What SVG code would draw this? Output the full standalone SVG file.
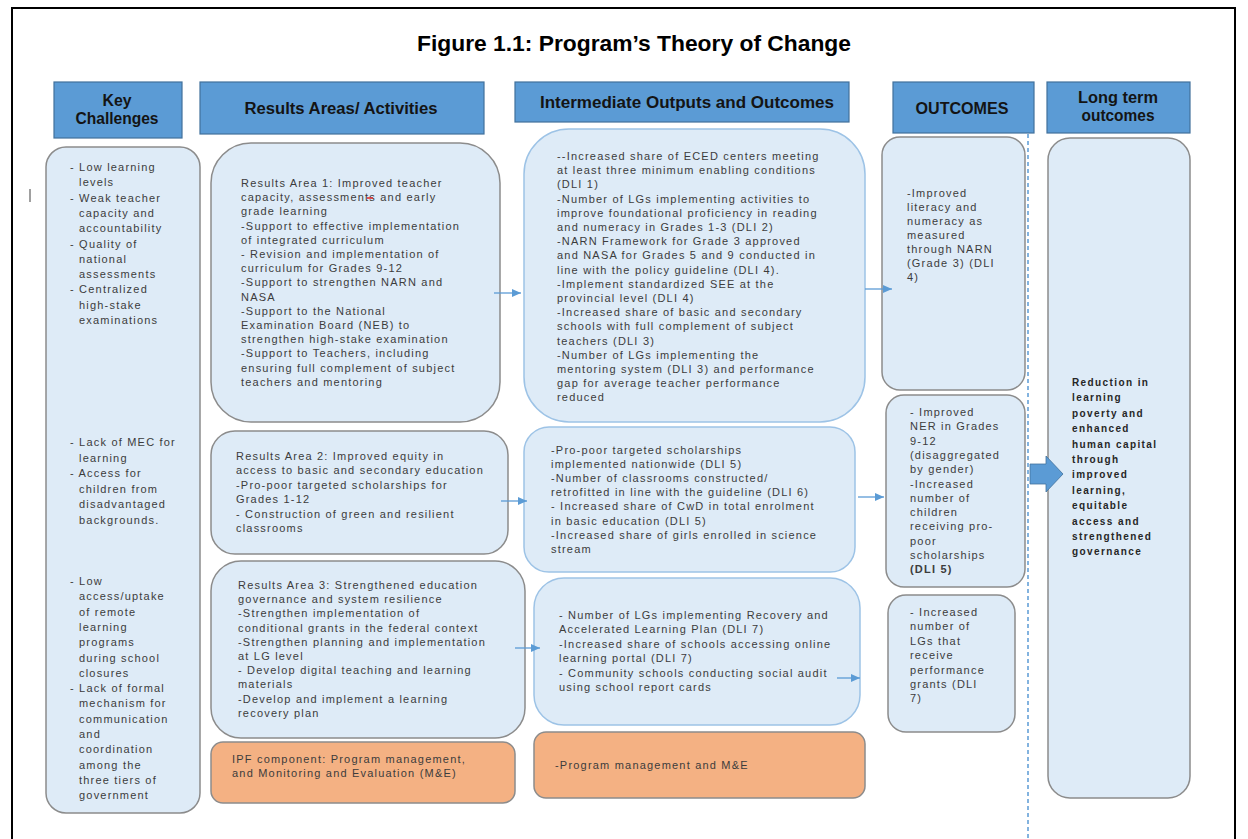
<svg xmlns="http://www.w3.org/2000/svg" width="1248" height="839" viewBox="0 0 1248 839">
  <defs>
    <style>
      .hdr { fill:#5B9BD5; stroke:#41719C; stroke-width:1.2; }
      .ht { font-family:"Liberation Sans", Arial, sans-serif; font-weight:bold; font-size:16px; fill:#141414; text-anchor:middle; }
      .box { fill:#DEEBF7; stroke:#8C8C8C; stroke-width:1.5; }
      .boxb { fill:#DEEBF7; stroke:#9DC3E6; stroke-width:1.5; }
      .org { fill:#F4B183; stroke:#8C8C8C; stroke-width:1.5; }
      .t { font-family:"Liberation Sans", Arial, sans-serif; font-size:11px; fill:#3C3C3C; letter-spacing:1.2px; }
      .lt { font-family:"Liberation Sans", Arial, sans-serif; font-size:10px; font-weight:bold; fill:#262626; letter-spacing:1.4px; }
      .conn path { stroke:#5B9BD5; stroke-width:1.3; fill:none; marker-end:url(#ah); }
    </style>
    <marker id="ah" markerUnits="userSpaceOnUse" markerWidth="9" markerHeight="8" refX="9" refY="4" orient="auto">
      <path d="M0,0 L9,4 L0,8 z" fill="#5B9BD5"/>
    </marker>
  </defs>

  <rect width="1248" height="839" fill="#FFFFFF"/>
  <!-- page frame -->
  <path d="M12,850 V8 H1235 V850" fill="none" stroke="#000" stroke-width="2"/>
  <rect x="29" y="189" width="2" height="13" fill="#A0A0A0"/>

  <text x="634" y="51" font-family="'Liberation Sans', Arial, sans-serif" font-weight="bold" font-size="22" fill="#000" text-anchor="middle" textLength="434" lengthAdjust="spacingAndGlyphs">Figure 1.1: Program’s Theory of Change</text>

  <!-- column headers -->
  <g id="hdr-key">
    <rect class="hdr" x="54" y="82" width="128" height="56"/>
    <text class="ht" x="117" y="106" textLength="29" lengthAdjust="spacingAndGlyphs">Key</text>
    <text class="ht" x="117" y="124" textLength="83" lengthAdjust="spacingAndGlyphs">Challenges</text>
  </g>
  <g id="hdr-results">
    <rect class="hdr" x="200" y="82" width="284" height="52"/>
    <text class="ht" x="341" y="114" textLength="193" lengthAdjust="spacingAndGlyphs">Results Areas/ Activities</text>
  </g>
  <g id="hdr-intermediate">
    <rect class="hdr" x="515" y="82" width="334" height="40"/>
    <text class="ht" x="687" y="108" textLength="294" lengthAdjust="spacingAndGlyphs">Intermediate Outputs and Outcomes</text>
  </g>
  <g id="hdr-outcomes">
    <rect class="hdr" x="893" y="82" width="141" height="51"/>
    <text class="ht" x="962" y="114" textLength="93" lengthAdjust="spacingAndGlyphs">OUTCOMES</text>
  </g>
  <g id="hdr-longterm">
    <rect class="hdr" x="1047" y="82" width="143" height="51"/>
    <text class="ht" x="1118" y="103" textLength="80" lengthAdjust="spacingAndGlyphs">Long term</text>
    <text class="ht" x="1118" y="121" textLength="73" lengthAdjust="spacingAndGlyphs">outcomes</text>
  </g>

  <!-- key challenges -->
  <g id="key-challenges">
    <rect class="box" x="46" y="147" width="154" height="666" rx="20"/>
    <text class="t">
      <tspan x="70" y="171">- Low learning</tspan>
      <tspan x="79" dy="15.3">levels</tspan>
      <tspan x="70" dy="15.3">- Weak teacher</tspan>
      <tspan x="79" dy="15.3">capacity and</tspan>
      <tspan x="79" dy="15.3">accountability</tspan>
      <tspan x="70" dy="15.3">- Quality of</tspan>
      <tspan x="79" dy="15.3">national</tspan>
      <tspan x="79" dy="15.3">assessments</tspan>
      <tspan x="70" dy="15.3">- Centralized</tspan>
      <tspan x="79" dy="15.3">high-stake</tspan>
      <tspan x="79" dy="15.3">examinations</tspan>
    </text>
    <text class="t">
      <tspan x="70" y="446">- Lack of MEC for</tspan>
      <tspan x="79" dy="15.5">learning</tspan>
      <tspan x="70" dy="15.5">- Access for</tspan>
      <tspan x="79" dy="15.5">children from</tspan>
      <tspan x="79" dy="15.5">disadvantaged</tspan>
      <tspan x="79" dy="15.5">backgrounds.</tspan>
    </text>
    <text class="t">
      <tspan x="70" y="585">- Low</tspan>
      <tspan x="79" dy="15.3">access/uptake</tspan>
      <tspan x="79" dy="15.3">of remote</tspan>
      <tspan x="79" dy="15.3">learning</tspan>
      <tspan x="79" dy="15.3">programs</tspan>
      <tspan x="79" dy="15.3">during school</tspan>
      <tspan x="79" dy="15.3">closures</tspan>
      <tspan x="70" dy="15.3">- Lack of formal</tspan>
      <tspan x="79" dy="15.3">mechanism for</tspan>
      <tspan x="79" dy="15.3">communication</tspan>
      <tspan x="79" dy="15.3">and</tspan>
      <tspan x="79" dy="15.3">coordination</tspan>
      <tspan x="79" dy="15.3">among the</tspan>
      <tspan x="79" dy="15.3">three tiers of</tspan>
      <tspan x="79" dy="15.3">government</tspan>
    </text>
  </g>

  <!-- results areas -->
  <g id="results-area-1">
    <rect class="box" x="211" y="143" width="289" height="279" rx="40"/>
    <text class="t">
      <tspan x="241" y="187">Results Area 1: Improved teacher</tspan>
      <tspan x="241" dy="14.2">capacity, assessments and early</tspan>
      <tspan x="241" dy="14.2">grade learning</tspan>
      <tspan x="241" dy="14.2">-Support to effective implementation</tspan>
      <tspan x="241" dy="14.2">of integrated curriculum</tspan>
      <tspan x="241" dy="14.2">- Revision and implementation of</tspan>
      <tspan x="241" dy="14.2">curriculum for Grades 9-12</tspan>
      <tspan x="241" dy="14.2">-Support to strengthen NARN and</tspan>
      <tspan x="241" dy="14.2">NASA</tspan>
      <tspan x="241" dy="14.2">-Support to the National</tspan>
      <tspan x="241" dy="14.2">Examination Board (NEB) to</tspan>
      <tspan x="241" dy="14.2">strengthen high-stake examination</tspan>
      <tspan x="241" dy="14.2">-Support to Teachers, including</tspan>
      <tspan x="241" dy="14.2">ensuring full complement of subject</tspan>
      <tspan x="241" dy="14.2">teachers and mentoring</tspan>
    </text>
    <path d="M367,198 H373" stroke="#E03030" stroke-width="1.6"/>
  </g>
  <g id="results-area-2">
    <rect class="box" x="211" y="431" width="297" height="123" rx="24"/>
    <text class="t">
      <tspan x="236" y="460">Results Area 2: Improved equity in</tspan>
      <tspan x="236" dy="14.4">access to basic and secondary education</tspan>
      <tspan x="236" dy="14.4">-Pro-poor targeted scholarships for</tspan>
      <tspan x="236" dy="14.4">Grades 1-12</tspan>
      <tspan x="236" dy="14.4">- Construction of green and resilient</tspan>
      <tspan x="236" dy="14.4">classrooms</tspan>
    </text>
  </g>
  <g id="results-area-3">
    <rect class="box" x="211" y="561" width="314" height="177" rx="30"/>
    <text class="t">
      <tspan x="238" y="589">Results Area 3: Strengthened education</tspan>
      <tspan x="238" dy="14.2">governance and system resilience</tspan>
      <tspan x="238" dy="14.2">-Strengthen implementation of</tspan>
      <tspan x="238" dy="14.2">conditional grants in the federal context</tspan>
      <tspan x="238" dy="14.2">-Strengthen planning and implementation</tspan>
      <tspan x="238" dy="14.2">at LG level</tspan>
      <tspan x="238" dy="14.2">- Develop digital teaching and learning</tspan>
      <tspan x="238" dy="14.2">materials</tspan>
      <tspan x="238" dy="14.2">-Develop and implement a learning</tspan>
      <tspan x="238" dy="14.2">recovery plan</tspan>
    </text>
  </g>
  <g id="ipf-component">
    <rect class="org" x="211" y="742" width="304" height="61" rx="12"/>
    <text class="t">
      <tspan x="232" y="763">IPF component: Program management,</tspan>
      <tspan x="232" dy="14.2">and Monitoring and Evaluation (M&amp;E)</tspan>
    </text>
  </g>

  <!-- intermediate outputs and outcomes -->
  <g id="intermediate-1">
    <rect class="boxb" x="524" y="129" width="341" height="293" rx="45"/>
    <text class="t">
      <tspan x="557" y="160">--Increased share of ECED centers meeting</tspan>
      <tspan x="557" dy="14.2">at least three minimum enabling conditions</tspan>
      <tspan x="557" dy="14.2">(DLI 1)</tspan>
      <tspan x="557" dy="14.2">-Number of LGs implementing activities to</tspan>
      <tspan x="557" dy="14.2">improve foundational proficiency in reading</tspan>
      <tspan x="557" dy="14.2">and numeracy in Grades 1-3 (DLI 2)</tspan>
      <tspan x="557" dy="14.2">-NARN Framework for Grade 3 approved</tspan>
      <tspan x="557" dy="14.2">and NASA for Grades 5 and 9 conducted in</tspan>
      <tspan x="557" dy="14.2">line with the policy guideline (DLI 4).</tspan>
      <tspan x="557" dy="14.2">-Implement standardized SEE at the</tspan>
      <tspan x="557" dy="14.2">provincial level (DLI 4)</tspan>
      <tspan x="557" dy="14.2">-Increased share of basic and secondary</tspan>
      <tspan x="557" dy="14.2">schools with full complement of subject</tspan>
      <tspan x="557" dy="14.2">teachers (DLI 3)</tspan>
      <tspan x="557" dy="14.2">-Number of LGs implementing the</tspan>
      <tspan x="557" dy="14.2">mentoring system (DLI 3) and performance</tspan>
      <tspan x="557" dy="14.2">gap for average teacher performance</tspan>
      <tspan x="557" dy="14.2">reduced</tspan>
    </text>
  </g>
  <g id="intermediate-2">
    <rect class="boxb" x="524" y="427" width="331" height="145" rx="25"/>
    <text class="t">
      <tspan x="551" y="454">-Pro-poor targeted scholarships</tspan>
      <tspan x="551" dy="14.1">implemented nationwide (DLI 5)</tspan>
      <tspan x="551" dy="14.1">-Number of classrooms constructed/</tspan>
      <tspan x="551" dy="14.1">retrofitted in line with the guideline (DLI 6)</tspan>
      <tspan x="551" dy="14.1">- Increased share of CwD in total enrolment</tspan>
      <tspan x="551" dy="14.1">in basic education (DLI 5)</tspan>
      <tspan x="551" dy="14.1">-Increased share of girls enrolled in science</tspan>
      <tspan x="551" dy="14.1">stream</tspan>
    </text>
  </g>
  <g id="intermediate-3">
    <rect class="boxb" x="534" y="578" width="326" height="147" rx="30"/>
    <text class="t">
      <tspan x="559" y="619">- Number of LGs implementing Recovery and</tspan>
      <tspan x="559" dy="14.4">Accelerated Learning Plan (DLI 7)</tspan>
      <tspan x="559" dy="14.4">-Increased share of schools accessing online</tspan>
      <tspan x="559" dy="14.4">learning portal (DLI 7)</tspan>
      <tspan x="559" dy="14.4">- Community schools conducting social audit</tspan>
      <tspan x="559" dy="14.4">using school report cards</tspan>
    </text>
  </g>
  <g id="intermediate-4">
    <rect class="org" x="534" y="732" width="331" height="66" rx="12"/>
    <text class="t" x="555" y="769">-Program management and M&amp;E</text>
  </g>

  <!-- outcomes -->
  <g id="outcome-1">
    <rect class="box" x="882" y="137" width="143" height="253" rx="18"/>
    <text class="t">
      <tspan x="907" y="197">-Improved</tspan>
      <tspan x="907" dy="14">literacy and</tspan>
      <tspan x="907" dy="14">numeracy as</tspan>
      <tspan x="907" dy="14">measured</tspan>
      <tspan x="907" dy="14">through NARN</tspan>
      <tspan x="907" dy="14">(Grade 3) (DLI</tspan>
      <tspan x="907" dy="14">4)</tspan>
    </text>
  </g>
  <g id="outcome-2">
    <rect class="box" x="886" y="395" width="139" height="192" rx="18"/>
    <text class="t">
      <tspan x="910" y="416">- Improved</tspan>
      <tspan x="910" dy="14.3">NER in Grades</tspan>
      <tspan x="910" dy="14.3">9-12</tspan>
      <tspan x="910" dy="14.3">(disaggregated</tspan>
      <tspan x="910" dy="14.3">by gender)</tspan>
      <tspan x="910" dy="14.3">-Increased</tspan>
      <tspan x="910" dy="14.3">number of</tspan>
      <tspan x="910" dy="14.3">children</tspan>
      <tspan x="910" dy="14.3">receiving pro-</tspan>
      <tspan x="910" dy="14.3">poor</tspan>
      <tspan x="910" dy="14.3">scholarships</tspan>
      <tspan x="910" dy="14.3" font-weight="bold">(DLI 5)</tspan>
    </text>
  </g>
  <g id="outcome-3">
    <rect class="box" x="888" y="595" width="127" height="137" rx="18"/>
    <text class="t">
      <tspan x="910" y="616">- Increased</tspan>
      <tspan x="910" dy="14.4">number of</tspan>
      <tspan x="910" dy="14.4">LGs that</tspan>
      <tspan x="910" dy="14.4">receive</tspan>
      <tspan x="910" dy="14.4">performance</tspan>
      <tspan x="910" dy="14.4">grants (DLI</tspan>
      <tspan x="910" dy="14.4">7)</tspan>
    </text>
  </g>

  <!-- long-term outcome -->
  <g id="long-term">
    <rect class="box" x="1048" y="138" width="142" height="660" rx="22"/>
    <text class="lt">
      <tspan x="1072" y="386">Reduction in</tspan>
      <tspan x="1072" dy="15.4">learning</tspan>
      <tspan x="1072" dy="15.4">poverty and</tspan>
      <tspan x="1072" dy="15.4">enhanced</tspan>
      <tspan x="1072" dy="15.4">human capital</tspan>
      <tspan x="1072" dy="15.4">through</tspan>
      <tspan x="1072" dy="15.4">improved</tspan>
      <tspan x="1072" dy="15.4">learning,</tspan>
      <tspan x="1072" dy="15.4">equitable</tspan>
      <tspan x="1072" dy="15.4">access and</tspan>
      <tspan x="1072" dy="15.4">strengthened</tspan>
      <tspan x="1072" dy="15.4">governance</tspan>
    </text>
  </g>

  <!-- connectors -->
  <g id="connectors" class="conn">
    <path d="M494,293 H521"/>
    <path d="M865,289 H892"/>
    <path d="M501,501 H527"/>
    <path d="M858,497 H884"/>
    <path d="M515,648 H540"/>
    <path d="M837,678 H860"/>
    <line x1="1028" y1="134" x2="1028" y2="839" stroke="#5B9BD5" stroke-width="1.5" stroke-dasharray="4 3"/>
    <polygon points="1030,464 1046,464 1046,456 1063,474 1046,492 1046,484 1030,484" fill="#5B9BD5" stroke="#41719C" stroke-width="0.8"/>
  </g>
</svg>
